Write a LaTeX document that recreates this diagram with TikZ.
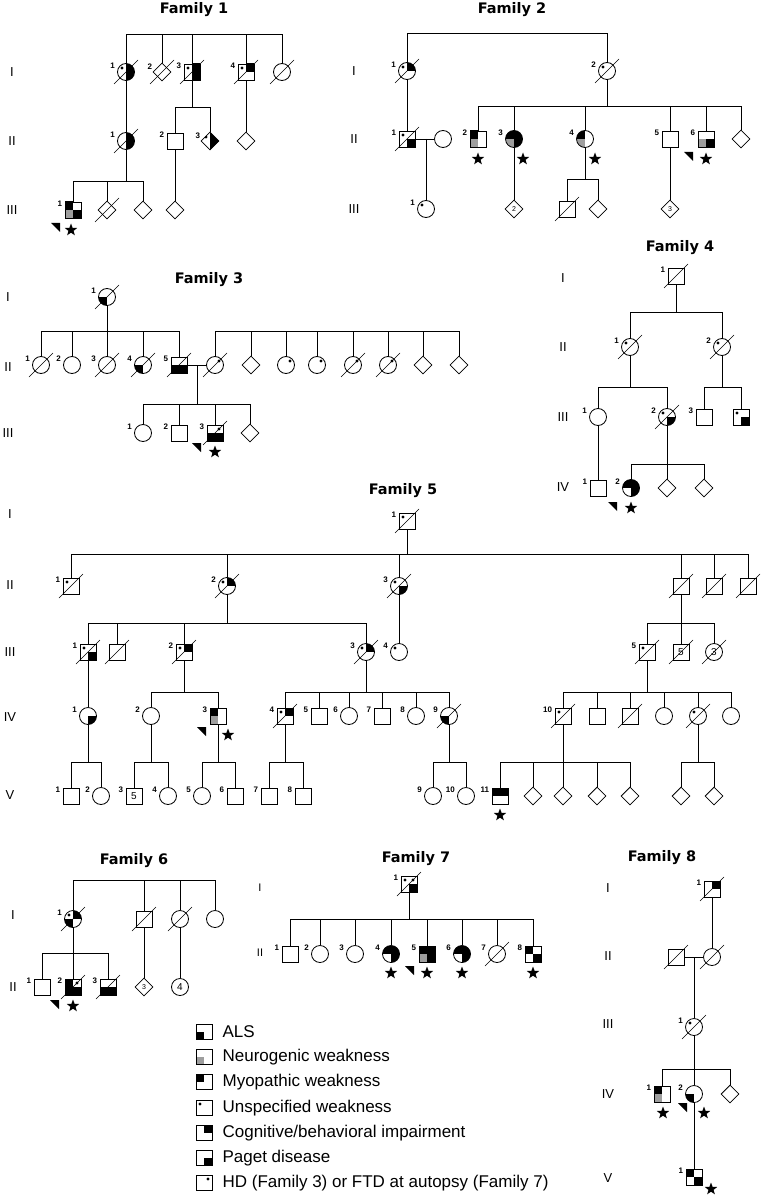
\documentclass[tikz,border=0pt]{standalone}
\usepackage{fontspec}
\setmainfont{Liberation Sans}
\newfontfamily\titlefont{DejaVu Sans}
\usetikzlibrary{positioning,shapes.geometric}
\pgfdeclarelayer{front}
\pgfsetlayers{main,front}

\def\qTL{n}\def\qTR{n}\def\qBL{n}\def\qBR{n}
\newcommand\pedq[3]{%
  \if b#1\fill[black] (path picture bounding box.center) rectangle ++(#2*20pt,#3*20pt);\fi
  \if g#1\fill[black!38] (path picture bounding box.center) rectangle ++(#2*20pt,#3*20pt);\fi
  \if d#1\fill[black] ([shift={(#2*4pt,#3*4pt)}]path picture bounding box.center) circle (1.7pt);\fi}
\newcommand\pedfill{\pedq{\qTL}{-1}{1}\pedq{\qTR}{1}{1}\pedq{\qBL}{-1}{-1}\pedq{\qBR}{1}{-1}}
\newcommand\sib[3]{%
  \draw[pline] (#1) -- (#1 |- 0,#2);
  \foreach \c in {#3} {\draw[pline] (\c) -- (\c |- 0,#2) -- (#1 |- 0,#2);}}
\newcommand\sibbar[4]{%
  \draw[pline] (#2 |- 0,#1) -- (#3 |- 0,#1);
  \foreach \c in {#4} {\draw[pline] (\c) -- (\c |- 0,#1);}}
\newcommand\probarrow[2]{\fill (#1,#2) -- ++(9,0) -- ++(0,9) -- cycle;}

\begin{document}
\begin{tikzpicture}[x=1pt, y=-1pt,
  pline/.style={line width=0.8pt},
  ped/.style={draw, line width=0.8pt, inner sep=0pt, fill=white, font=\fontsize{10}{10}\selectfont, path picture={\pedfill}},
  male/.style={ped, rectangle, minimum size=16pt},
  female/.style={ped, circle, minimum size=17pt},
  unknown/.style={ped, diamond, minimum size=18pt, font=\fontsize{7}{7}\selectfont},
  qtl/.code={\def\qTL{#1}}, qtr/.code={\def\qTR{#1}},
  qbl/.code={\def\qBL{#1}}, qbr/.code={\def\qBR{#1}},
  dead/.style={append after command={\pgfextra{\begin{pgfonlayer}{front}\draw[line width=0.6pt] ([shift={(-12pt,-12pt)}]\tikzlastnode.center) -- ([shift={(12pt,12pt)}]\tikzlastnode.center);\end{pgfonlayer}}}},
  idn/.style={label={[idlbl]165:#1}},
  idlbl/.style={font=\bfseries\fontsize{8}{8}\selectfont, inner sep=0pt, label distance=2.5pt},
  gen/.style={font=\fontsize{13}{13}\selectfont},
  famtitle/.style={font=\titlefont\bfseries\fontsize{14.5}{17}\selectfont},
  affstar/.style={star, star points=5, star point ratio=2.4, fill=black, inner sep=0pt, minimum size=13pt},
  lgbox/.style={ped, rectangle, minimum width=16pt, minimum height=15pt},
  lgtext/.style={font=\fontsize{17}{17}\selectfont, inner sep=0pt, anchor=west}
]
\useasboundingbox (0,0) rectangle (761,1198);

% Family 1
\node[famtitle] (f1t) at (194,10) {Family 1};
\node[gen] (f1g1) at (12,72) {I};
\node[gen] (f1g2) at (12,141) {II};
\node[gen] (f1g3) at (12,210) {III};
\node[female, qtl=d, qtr=b, qbr=b, dead, idn=1] (f1i1) at (126,72) {};
\node[unknown, dead, idn=2] (f1i2) at (162,72) {};
\node[male, qtl=d, qtr=b, qbr=b, dead, idn=3] (f1i3) at (192,72) {};
\node[male, qtl=d, qtr=b, dead, idn=4] (f1i4) at (246,72) {};
\node[female, dead] (f1i5) at (282,72) {};
\node[female, qtr=b, qbr=b, dead, idn=1] (f1ii1) at (126,141) {};
\node[male, idn=2] (f1ii2) at (175,141) {};
\node[unknown, qtl=d, qtr=b, qbr=b, idn=3] (f1ii3) at (210,141) {};
\node[unknown] (f1ii4) at (246,141) {};
\node[male, qtl=b, qbl=g, qbr=b, idn=1] (f1iii1) at (73,210) {};
\node[unknown, dead] (f1iii2) at (107,210) {};
\node[unknown] (f1iii3) at (143,210) {};
\node[unknown] (f1iii4) at (175,210) {};
\node[affstar] (f1s1) at (71,230) {};
\probarrow{51}{223}
\sibbar{34}{f1i1}{f1i5}{f1i1,f1i2,f1i3,f1i4,f1i5}
\draw[pline] (f1i1) -- (f1ii1);
\sib{f1i3}{107}{f1ii2,f1ii3}
\draw[pline] (f1i4) -- (f1ii4);
\sib{f1ii1}{181}{f1iii1,f1iii2,f1iii3}
\draw[pline] (f1ii2) -- (f1iii4);

% Family 2
\node[famtitle] (f2t) at (512,10) {Family 2};
\node[gen] (f2g1) at (354,71) {I};
\node[gen] (f2g2) at (354,139) {II};
\node[gen] (f2g3) at (354,209) {III};
\node[female, qtl=d, qtr=b, dead, idn=1] (f2i1) at (407,71) {};
\node[female, qtl=d, dead, idn=2] (f2i2) at (607,71) {};
\node[male, qtl=d, qbr=b, dead, idn=1] (f2ii1) at (407,139) {};
\node[female] (f2sp) at (443,139) {};
\coordinate (f2m) at (426,139);
\node[male, qtl=b, qbl=g, idn=2] (f2ii2) at (478,139) {};
\node[female, qtl=b, qtr=b, qbr=b, qbl=g, idn=3] (f2ii3) at (514,139) {};
\node[female, qtl=b, qbl=g, idn=4] (f2ii4) at (585,139) {};
\node[male, idn=5] (f2ii5) at (670,139) {};
\node[male, qbl=g, qbr=b, idn=6] (f2ii6) at (706,139) {};
\node[unknown] (f2ii7) at (741,139) {};
\node[female, qtl=d, idn=1] (f2iii1) at (426,209) {};
\node[unknown] (f2iii2) at (514,209) {2};
\node[male, dead] (f2iii3) at (567,209) {};
\node[unknown] (f2iii4) at (598,209) {};
\node[unknown] (f2iii5) at (670,209) {3};
\node[affstar] (f2s1) at (478,159) {};
\node[affstar] (f2s2) at (523,159) {};
\node[affstar] (f2s3) at (595,159) {};
\node[affstar] (f2s4) at (706,159) {};
\probarrow{684}{152}
\sibbar{33}{f2i1}{f2i2}{f2i1,f2i2}
\draw[pline] (f2i1) -- (f2ii1);
\draw[pline] (f2ii1) -- (f2sp);
\draw[pline] (f2m) -- (f2iii1);
\sib{f2i2}{106}{f2ii2,f2ii3,f2ii4,f2ii5,f2ii6,f2ii7}
\draw[pline] (f2ii3) -- (f2iii2);
\sib{f2ii4}{179}{f2iii3,f2iii4}
\draw[pline] (f2ii5) -- (f2iii5);

% Family 3
\node[famtitle] (f3t) at (209,280) {Family 3};
\node[gen] (f3g1) at (8,297) {I};
\node[gen] (f3g2) at (8,367) {II};
\node[gen] (f3g3) at (8,433) {III};
\node[female, qbl=b, dead, idn=1] (f3i1) at (107,297) {};
\node[female, dead, idn=1] (f3ii1) at (41,365) {};
\node[female, idn=2] (f3ii2) at (72,365) {};
\node[female, dead, idn=3] (f3ii3) at (107,365) {};
\node[female, qbl=b, dead, idn=4] (f3ii4) at (143,365) {};
\node[male, qbl=b, qbr=b, dead, idn=5] (f3ii5) at (179,365) {};
\node[female, qtr=d, dead] (f3sp) at (215,365) {};
\node[unknown] (f3sa) at (251,365) {};
\node[female, qtr=d] (f3sb) at (286,365) {};
\node[female, qtr=d] (f3sc) at (317,365) {};
\node[female, qtr=d, dead] (f3sd) at (353,365) {};
\node[female, qtr=d, dead] (f3se) at (388,365) {};
\node[unknown] (f3sf) at (423,365) {};
\node[unknown] (f3sg) at (459,365) {};
\coordinate (f3m) at (197,365);
\node[female, idn=1] (f3iii1) at (143,433) {};
\node[male, idn=2] (f3iii2) at (179,433) {};
\node[male, qtr=d, qbl=b, qbr=b, dead, idn=3] (f3iii3) at (215,433) {};
\node[unknown] (f3iii4) at (250,433) {};
\node[affstar] (f3s1) at (215,452) {};
\probarrow{192}{443}
\sib{f3i1}{331}{f3ii1,f3ii2,f3ii3,f3ii4,f3ii5}
\sibbar{331}{f3sp}{f3sg}{f3sp,f3sa,f3sb,f3sc,f3sd,f3se,f3sf,f3sg}
\draw[pline] (f3ii5) -- (f3sp);
\sib{f3m}{404}{f3iii1,f3iii2,f3iii3,f3iii4}

% Family 4
\node[famtitle] (f4t) at (680,248) {Family 4};
\node[gen] (f4g1) at (563,278) {I};
\node[gen] (f4g2) at (563,347) {II};
\node[gen] (f4g3) at (563,417) {III};
\node[gen] (f4g4) at (563,487) {IV};
\node[male, dead, idn=1] (f4i1) at (676,276) {};
\node[female, qtl=d, dead, idn=1] (f4ii1) at (630,347) {};
\node[female, qtl=d, dead, idn=2] (f4ii2) at (722,347) {};
\node[female, idn=1] (f4iii1) at (598,417) {};
\node[female, qtl=d, qbr=b, dead, idn=2] (f4iii2) at (667,417) {};
\node[male, idn=3] (f4iii3) at (704,417) {};
\node[male, qtl=d, qbr=b] (f4iii4) at (741,417) {};
\node[male, idn=1] (f4iv1) at (598,488) {};
\node[female, qtl=b, qtr=b, qbr=b, idn=2] (f4iv2) at (631,488) {};
\node[unknown] (f4iva) at (667,488) {};
\node[unknown] (f4ivb) at (704,488) {};
\node[affstar] (f4s1) at (631,508) {};
\probarrow{608}{502}
\sib{f4i1}{312}{f4ii1,f4ii2}
\sib{f4ii1}{387}{f4iii1,f4iii2}
\sib{f4ii2}{387}{f4iii3,f4iii4}
\draw[pline] (f4iii1) -- (f4iv1);
\sib{f4iii2}{464}{f4iv2,f4iva,f4ivb}

% Family 5
\node[famtitle] (f5t) at (403,491) {Family 5};
\node[gen] (f5g1) at (10,514) {I};
\node[gen] (f5g2) at (10,585) {II};
\node[gen] (f5g3) at (10,652) {III};
\node[gen] (f5g4) at (10,717) {IV};
\node[gen] (f5g5) at (10,795) {V};
\node[male, qtl=d, dead, idn=1] (f5i1) at (407,521) {};
\node[male, qtl=d, dead, idn=1] (f5ii1) at (71,586) {};
\node[female, qtl=d, qtr=b, dead, idn=2] (f5ii2) at (227,586) {};
\node[female, qtl=d, qbr=b, dead, idn=3] (f5ii3) at (399,586) {};
\node[male, dead] (f5ii4) at (681,586) {};
\node[male, dead] (f5ii5) at (714,586) {};
\node[male, dead] (f5ii6) at (748,586) {};
\node[male, qtl=d, qbr=b, dead, idn=1] (f5iii1) at (88,652) {};
\node[male, dead] (f5iiia) at (117,652) {};
\node[male, qtl=d, qtr=b, dead, idn=2] (f5iii2) at (184,652) {};
\node[female, qtl=d, qtr=b, dead, idn=3] (f5iii3) at (366,652) {};
\node[female, qtl=d, idn=4] (f5iii4) at (399,652) {};
\node[male, qtl=d, dead, idn=5] (f5iii5) at (647,652) {};
\node[male, dead] (f5iiib) at (681,652) {5};
\node[female, dead] (f5iiic) at (714,652) {3};
\node[female, qbr=b, idn=1] (f5iv1) at (88,716) {};
\node[female, idn=2] (f5iv2) at (151,716) {};
\node[male, qtl=b, qbl=g, idn=3] (f5iv3) at (218,716) {};
\node[male, qtl=d, qtr=b, dead, idn=4] (f5iv4) at (285,716) {};
\node[male, idn=5] (f5iv5) at (319,716) {};
\node[female, idn=6] (f5iv6) at (349,716) {};
\node[male, idn=7] (f5iv7) at (382,716) {};
\node[female, idn=8] (f5iv8) at (416,716) {};
\node[female, qbl=b, dead, idn=9] (f5iv9) at (449,716) {};
\node[male, qtl=d, dead, idn=10] (f5iv10) at (563,716) {};
\node[male] (f5iva) at (597,716) {};
\node[male, dead] (f5ivb) at (630,716) {};
\node[female] (f5ivc) at (664,716) {};
\node[female, qtl=d, dead] (f5ivd) at (698,716) {};
\node[female] (f5ive) at (731,716) {};
\node[male, idn=1] (f5v1) at (71,796) {};
\node[female, idn=2] (f5v2) at (101,796) {};
\node[male, idn=3] (f5v3) at (134,796) {5};
\node[female, idn=4] (f5v4) at (168,796) {};
\node[female, idn=5] (f5v5) at (202,796) {};
\node[male, idn=6] (f5v6) at (235,796) {};
\node[male, idn=7] (f5v7) at (269,796) {};
\node[male, idn=8] (f5v8) at (303,796) {};
\node[female, idn=9] (f5v9) at (433,796) {};
\node[female, idn=10] (f5v10) at (466,796) {};
\node[male, qtl=b, qtr=b, idn=11] (f5v11) at (500,796) {};
\node[unknown] (f5va) at (533,796) {};
\node[unknown] (f5vb) at (563,796) {};
\node[unknown] (f5vc) at (597,796) {};
\node[unknown] (f5vd) at (630,796) {};
\node[unknown] (f5ve) at (681,796) {};
\node[unknown] (f5vf) at (714,796) {};
\node[affstar] (f5s1) at (228,735) {};
\node[affstar] (f5s2) at (500,815) {};
\probarrow{197}{727}
\sib{f5i1}{554}{f5ii1,f5ii2,f5ii3,f5ii4,f5ii5,f5ii6}
\sib{f5ii2}{623}{f5iii1,f5iiia,f5iii2,f5iii3}
\draw[pline] (f5ii3) -- (f5iii4);
\sib{f5ii4}{623}{f5iii5,f5iiib,f5iiic}
\draw[pline] (f5iii1) -- (f5iv1);
\sib{f5iii2}{692}{f5iv2,f5iv3}
\sib{f5iii3}{692}{f5iv4,f5iv5,f5iv6,f5iv7,f5iv8,f5iv9}
\sib{f5iii5}{692}{f5iv10,f5iva,f5ivb,f5ivc,f5ivd,f5ive}
\sib{f5iv1}{762}{f5v1,f5v2}
\sib{f5iv2}{762}{f5v3,f5v4}
\sib{f5iv3}{762}{f5v5,f5v6}
\sib{f5iv4}{762}{f5v7,f5v8}
\sib{f5iv9}{762}{f5v9,f5v10}
\sib{f5iv10}{762}{f5v11,f5va,f5vb,f5vc,f5vd}
\sib{f5ivd}{762}{f5ve,f5vf}

% Family 6
\node[famtitle] (f6t) at (134,861) {Family 6};
\node[gen] (f6g1) at (13,915) {I};
\node[gen] (f6g2) at (13,987) {II};
\node[female, qtl=d, qtr=b, qbl=b, dead, idn=1] (f6i1) at (73,919) {};
\node[male, dead] (f6ia) at (144,919) {};
\node[female, dead] (f6ib) at (180,919) {};
\node[female] (f6ic) at (215,919) {};
\node[male, idn=1] (f6ii1) at (42,987) {};
\node[male, qtl=b, qtr=d, qbl=b, qbr=b, dead, idn=2] (f6ii2) at (73,987) {};
\node[male, qbl=b, qbr=b, dead, idn=3] (f6ii3) at (108,987) {};
\node[unknown] (f6iia) at (144,987) {3};
\node[female] (f6iib) at (180,987) {4};
\node[affstar] (f6s1) at (73,1006) {};
\probarrow{50}{1000}
\sibbar{880}{f6i1}{f6ic}{f6i1,f6ia,f6ib,f6ic}
\sib{f6i1}{953}{f6ii1,f6ii2,f6ii3}
\draw[pline] (f6ia) -- (f6iia);
\draw[pline] (f6ib) -- (f6iib);

% Family 7
\node[famtitle] (f7t) at (416,859) {Family 7};
\node[gen, font=\fontsize{11}{11}\selectfont] (f7g1) at (260,888) {I};
\node[gen, font=\fontsize{11}{11}\selectfont] (f7g2) at (260,953) {II};
\node[male, qtl=d, qtr=d, qbr=b, dead, idn=1] (f7i1) at (409,884) {};
\node[male, idn=1] (f7ii1) at (290,954) {};
\node[female, idn=2] (f7ii2) at (320,954) {};
\node[female, idn=3] (f7ii3) at (355,954) {};
\node[female, qtl=b, qtr=b, qbr=b, idn=4] (f7ii4) at (391,954) {};
\node[male, qtl=b, qtr=b, qbr=b, qbl=g, idn=5] (f7ii5) at (427,954) {};
\node[female, qtl=b, qtr=b, qbr=b, idn=6] (f7ii6) at (462,954) {};
\node[female, dead, idn=7] (f7ii7) at (497,954) {};
\node[male, qtl=b, qbr=b, idn=8] (f7ii8) at (533,954) {};
\node[affstar] (f7s1) at (391,973) {};
\node[affstar] (f7s2) at (427,973) {};
\node[affstar] (f7s3) at (462,973) {};
\node[affstar] (f7s4) at (533,973) {};
\probarrow{405}{966}
\sib{f7i1}{919}{f7ii1,f7ii2,f7ii3,f7ii4,f7ii5,f7ii6,f7ii7,f7ii8}

% Family 8
\node[famtitle] (f8t) at (662,858) {Family 8};
\node[gen] (f8g1) at (608,888) {I};
\node[gen] (f8g2) at (608,956) {II};
\node[gen] (f8g3) at (608,1024) {III};
\node[gen] (f8g4) at (608,1094) {IV};
\node[gen] (f8g5) at (608,1178) {V};
\node[male, qtr=b, dead, idn=1] (f8i1) at (712,889) {};
\node[male, dead] (f8iia) at (676,957) {};
\node[female, dead] (f8iib) at (712,957) {};
\coordinate (f8m) at (694,957);
\node[female, qtl=d, dead, idn=1] (f8iii1) at (694,1027) {};
\node[male, qtl=b, qbl=g, idn=1] (f8iv1) at (662,1094) {};
\node[female, qbl=b, idn=2] (f8iv2) at (694,1094) {};
\node[unknown] (f8iva) at (730,1094) {};
\node[male, qtl=b, qbr=b, idn=1] (f8v1) at (694,1177) {};
\node[affstar] (f8s1) at (663,1113) {};
\node[affstar] (f8s2) at (704,1113) {};
\node[affstar] (f8s3) at (711,1189) {};
\probarrow{678}{1103}
\draw[pline] (f8i1) -- (f8iib);
\draw[pline] (f8iia) -- (f8iib);
\draw[pline] (f8m) -- (f8iii1);
\sib{f8iii1}{1069}{f8iv1,f8iv2,f8iva}
\draw[pline] (f8iv2) -- (f8v1);

% Legend
\node[lgbox, qbl=b] (lg1) at (204,1032) {};
\node[lgbox, qbl=g] (lg2) at (204,1057) {};
\node[lgbox, qtl=b] (lg3) at (204,1082) {};
\node[lgbox, qtl=d] (lg4) at (204,1108) {};
\node[lgbox, qtr=b] (lg5) at (204,1133) {};
\node[lgbox, qbr=b] (lg6) at (204,1158) {};
\node[lgbox, qtr=d] (lg7) at (204,1183) {};
\node[lgtext, right=10pt of lg1] (lgt1) {ALS};
\node[lgtext, right=10pt of lg2] (lgt2) {Neurogenic weakness};
\node[lgtext, right=10pt of lg3] (lgt3) {Myopathic weakness};
\node[lgtext, right=10pt of lg4] (lgt4) {Unspecified weakness};
\node[lgtext, right=10pt of lg5] (lgt5) {Cognitive/behavioral impairment};
\node[lgtext, right=10pt of lg6] (lgt6) {Paget disease};
\node[lgtext, right=10pt of lg7] (lgt7) {HD (Family 3) or FTD at autopsy (Family 7)};
\end{tikzpicture}
\end{document}
